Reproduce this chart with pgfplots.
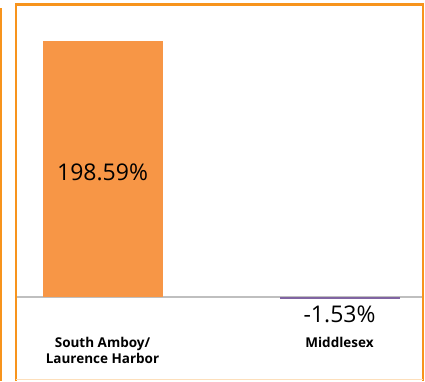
\documentclass[border=0pt]{standalone}
\usepackage{pgfplots}
\pgfplotsset{compat=1.18}
\usepackage{fontspec}
\setmainfont{Open Sans}
\definecolor{frameor}{HTML}{F7941D}
\definecolor{baror}{HTML}{F79646}
\definecolor{barpu}{HTML}{8064A2}
\begin{document}
\begin{tikzpicture}
\path[use as bounding box] (0pt,0pt) rectangle (425pt,381pt);
\draw[frameor, line width=2.5pt] (1pt,0pt) -- (1pt,373pt);
\draw[frameor, line width=2.5pt] (16pt,0pt) -- (16pt,376.5pt) -- (423pt,376.5pt) -- (423pt,0pt);
\draw[frameor!30, line width=1pt] (16pt,1.5pt) -- (423pt,1.5pt);
\begin{axis}[
  at={(17pt,50.5pt)}, anchor=south west, scale only axis,
  width=405pt, height=310.67pt,
  xmin=-0.3608, xmax=1.348, ymin=-26, ymax=215,
  axis line style={draw=none},
  ybar, bar width=120pt, bar shift=0pt,
  xtick={0,1}, xticklabels={{South Amboy/\\Laurence Harbor},{Middlesex}},
  xticklabel style={font=\bfseries\fontsize{13.5}{16}\selectfont, align=center, anchor=north, yshift=-3pt},
  ytick=\empty, major tick length=0pt,
  extra y ticks={0}, extra y tick labels={},
  extra y tick style={grid=major, major grid style={draw=black!25, line width=1.5pt}},
  clip=false,
]
\addplot[fill=baror, draw=none] coordinates {(0,198.59)};
\addplot[fill=barpu, draw=none] coordinates {(1,-1.53)};
\node[font=\fontsize{23}{26}\selectfont] at (axis cs:0,97) {198.59\%};
\node[font=\fontsize{23}{26}\selectfont] at (axis cs:1,-13.2) {-1.53\%};
\end{axis}
\end{tikzpicture}
\end{document}
